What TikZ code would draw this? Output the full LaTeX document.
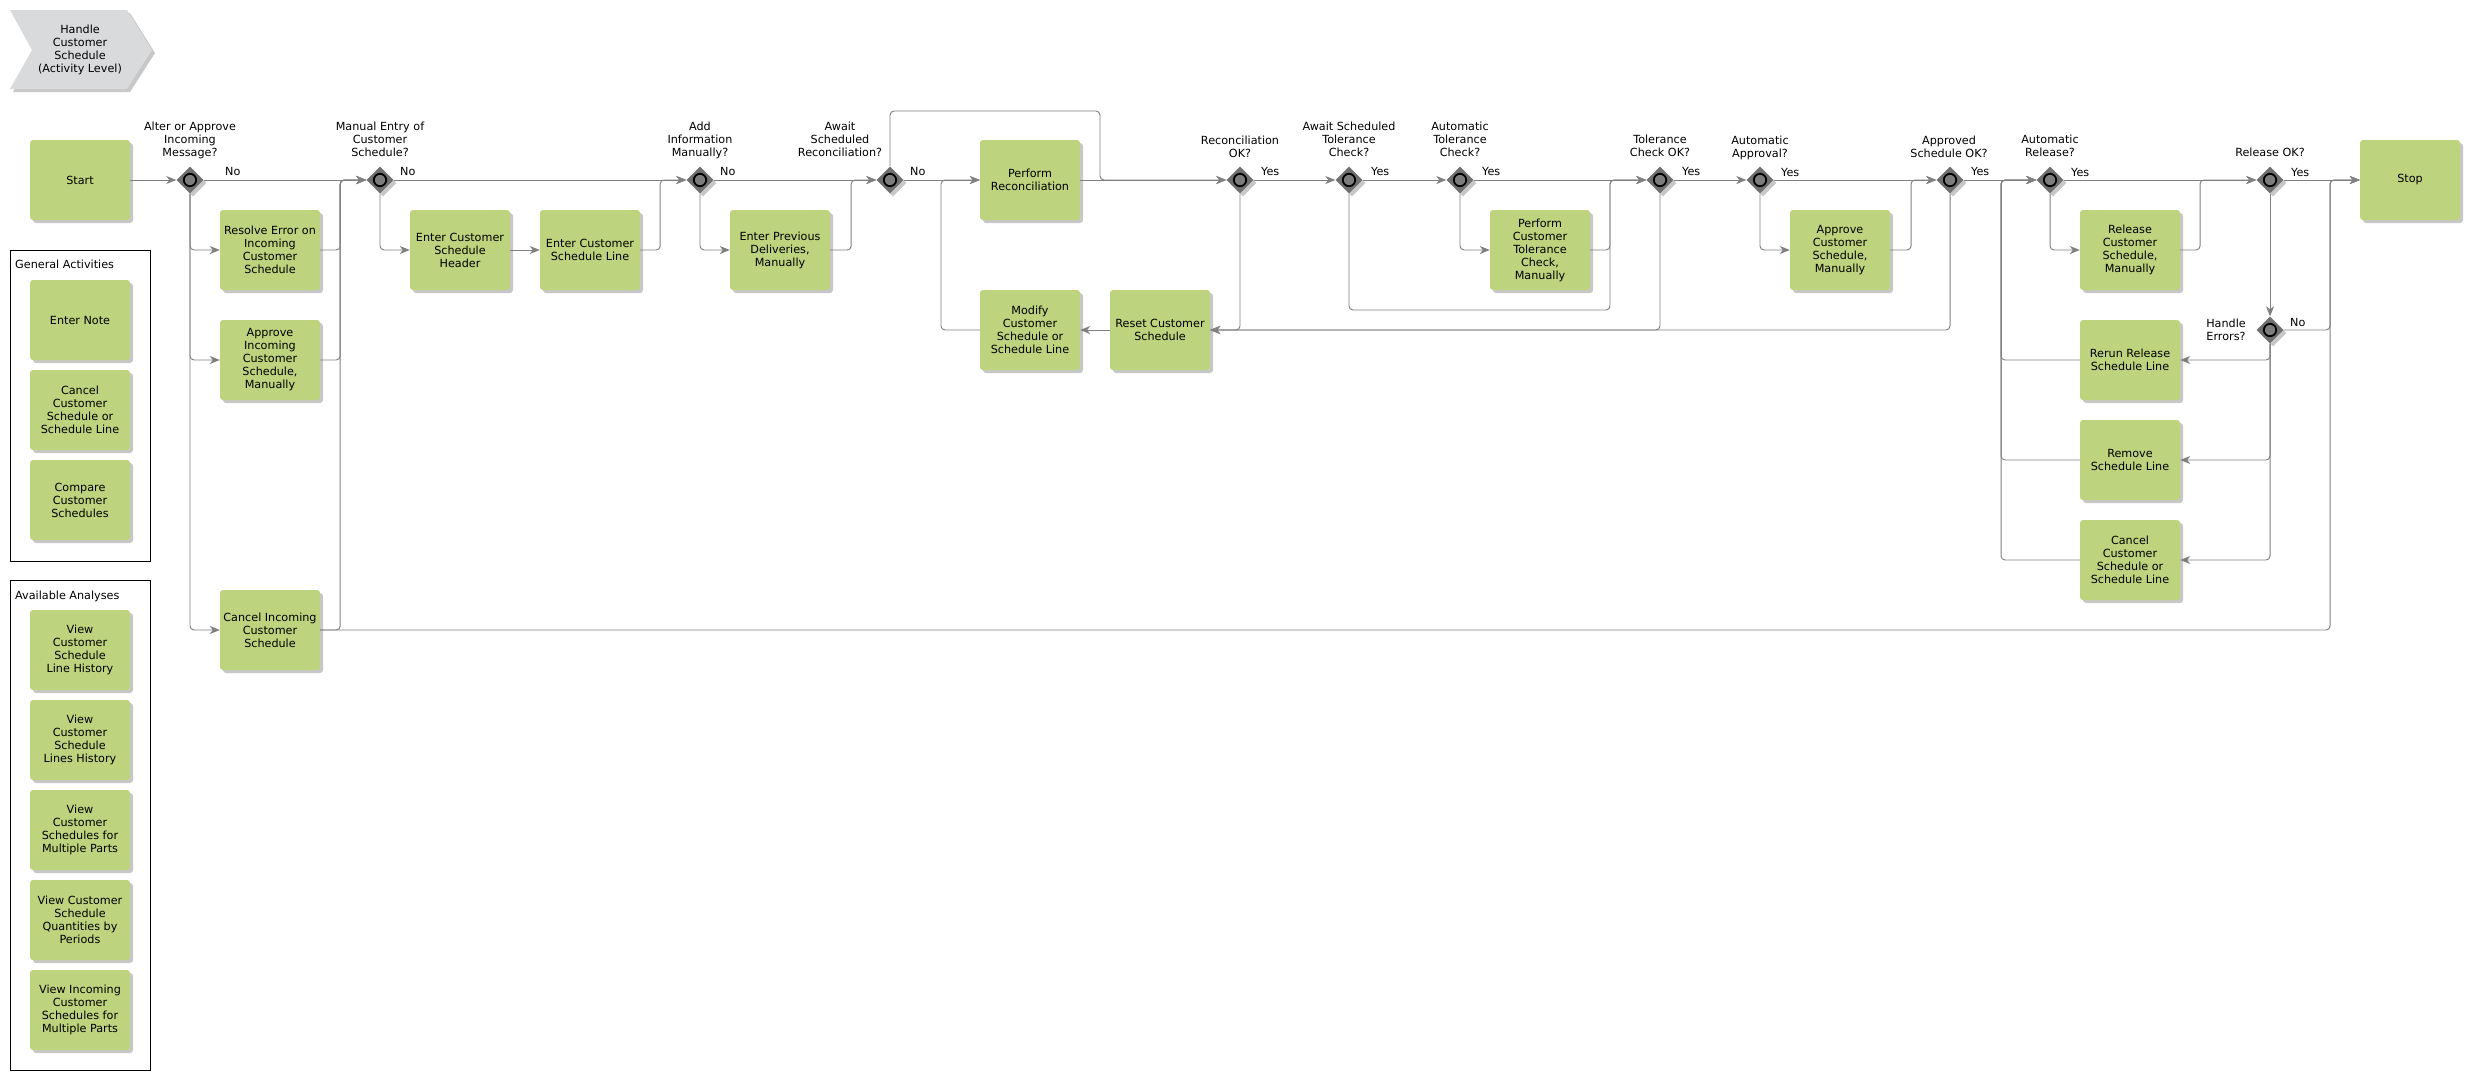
\documentclass[tikz,border=0pt]{standalone}
\usepackage{fontspec}
\setmainfont{DejaVu Sans}
\usetikzlibrary{shapes.geometric,shadows,arrows.meta}
\definecolor{boxgreen}{RGB}{189,211,125}
\definecolor{gwgray}{RGB}{112,112,112}
\definecolor{gwcirc}{RGB}{125,125,125}
\definecolor{linegray}{RGB}{128,128,128}
\definecolor{chevgray}{RGB}{217,218,220}
\tikzset{
  txt/.style={font=\fontsize{11.2}{13}\selectfont, inner sep=0pt, align=center},
  shad/.style={drop shadow={shadow xshift=3pt, shadow yshift=-3pt, fill=black, opacity=0.22}},
  box/.style={txt, fill=boxgreen, rounded corners=3pt, minimum width=100pt, minimum height=80pt, shad},
  gw/.style={diamond, aspect=1, minimum width=27pt, minimum height=27pt, inner sep=0pt, fill=gwgray, shad,
    path picture={\draw[line width=1.8pt, fill=gwcirc] (path picture bounding box.center) circle (6.2pt);}},
  flow/.style={draw=linegray, line width=0.95pt, rounded corners=4pt, -{Stealth[length=10pt,width=8pt,inset=3pt]}},
  plain/.style={draw=linegray, line width=0.95pt, rounded corners=4pt},
  qlbl/.style={txt, anchor=south, text depth=0pt},
  ans/.style={txt, anchor=base west},
  grp/.style={draw=black, line width=0.9pt}
}
\begin{document}
\begin{tikzpicture}[x=1pt,y=-1pt]
\useasboundingbox (0,0) rectangle (2470,1080);
\fill[white] (0,0) rectangle (2470,1080);

% header chevron
\path[fill=chevgray, shad] (10,10) -- (127,10) -- (152,50) -- (127,89) -- (10,89) -- (32,50) -- cycle;
\node[txt] (hdr) at (80,50) {Handle\\Customer\\Schedule\\(Activity Level)};

% group frames
\draw[grp] (10,250) rectangle (150,561);
\node[txt, anchor=west] (gentitle) at (15,264) {General Activities};
\draw[grp] (10,580) rectangle (150,1070);
\node[txt, anchor=west] (avtitle) at (15,596) {Available Analyses};

% general / analyses boxes
\node[box] (enternote) at (80,320) {Enter Note};
\node[box] (gcancel) at (80,410) {Cancel\\Customer\\Schedule or\\Schedule Line};
\node[box] (compare) at (80,500) {Compare\\Customer\\Schedules};
\node[box] (v1) at (80,650) {View\\Customer\\Schedule\\Line History};
\node[box] (v2) at (80,740) {View\\Customer\\Schedule\\Lines History};
\node[box] (v3) at (80,830) {View\\Customer\\Schedules for\\Multiple Parts};
\node[box] (v4) at (80,920) {View Customer\\Schedule\\Quantities by\\Periods};
\node[box] (v5) at (80,1010) {View Incoming\\Customer\\Schedules for\\Multiple Parts};

% process boxes
\node[box] (start) at (80,180) {Start};
\node[box] (resolve) at (270,250) {Resolve Error on\\Incoming\\Customer\\Schedule};
\node[box] (approvein) at (270,360) {Approve\\Incoming\\Customer\\Schedule,\\Manually};
\node[box] (cancelin) at (270,630) {Cancel Incoming\\Customer\\Schedule};
\node[box] (ecsh) at (460,250) {Enter Customer\\Schedule\\Header};
\node[box] (ecsl) at (590,250) {Enter Customer\\Schedule Line};
\node[box] (epd) at (780,250) {Enter Previous\\Deliveries,\\Manually};
\node[box] (perfrec) at (1030,180) {Perform\\Reconciliation};
\node[box] (modify) at (1030,330) {Modify\\Customer\\Schedule or\\Schedule Line};
\node[box] (reset) at (1160,330) {Reset Customer\\Schedule};
\node[box] (pctc) at (1540,250) {Perform\\Customer\\Tolerance\\Check,\\Manually};
\node[box] (acsm) at (1840,250) {Approve\\Customer\\Schedule,\\Manually};
\node[box] (rcsm) at (2130,250) {Release\\Customer\\Schedule,\\Manually};
\node[box] (stop) at (2410,180) {Stop};
\node[box] (rerun) at (2130,360) {Rerun Release\\Schedule Line};
\node[box] (remove) at (2130,460) {Remove\\Schedule Line};
\node[box] (cancelcs) at (2130,560) {Cancel\\Customer\\Schedule or\\Schedule Line};

% gateways
\node[gw] (g1) at (190,180) {};
\node[gw] (g2) at (380,180) {};
\node[gw] (g3) at (700,180) {};
\node[gw] (g4) at (890,180) {};
\node[gw] (g5) at (1240,180) {};
\node[gw] (g6) at (1349,180) {};
\node[gw] (g7) at (1460,180) {};
\node[gw] (g8) at (1660,180) {};
\node[gw] (g9) at (1760,180) {};
\node[gw] (g10) at (1950,180) {};
\node[gw] (g11) at (2050,180) {};
\node[gw] (g12) at (2270,180) {};
\node[gw] (g13) at (2270,330) {};

% gateway questions
\node[qlbl] (q1) at (190,157) {Alter or Approve\\Incoming\\Message?};
\node[qlbl] (q2) at (380,157) {Manual Entry of\\Customer\\Schedule?};
\node[qlbl] (q3) at (700,157) {Add\\Information\\Manually?};
\node[qlbl] (q4) at (840,157) {Await\\Scheduled\\Reconciliation?};
\node[qlbl] (q5) at (1240,158) {Reconciliation\\OK?};
\node[qlbl] (q6) at (1349,157) {Await Scheduled\\Tolerance\\Check?};
\node[qlbl] (q7) at (1460,157) {Automatic\\Tolerance\\Check?};
\node[qlbl] (q8) at (1660,157) {Tolerance\\Check OK?};
\node[qlbl] (q9) at (1760,158) {Automatic\\Approval?};
\node[qlbl] (q10) at (1949,158) {Approved\\Schedule OK?};
\node[qlbl] (q11) at (2050,157) {Automatic\\Release?};
\node[qlbl] (q12) at (2270,157) {Release OK?};
\node[qlbl] (q13) at (2226,341) {Handle\\Errors?};

% answers
\node[ans] (a1) at (225,175) {No};
\node[ans] (a2) at (400,175) {No};
\node[ans] (a3) at (720,175) {No};
\node[ans] (a4) at (910,175) {No};
\node[ans] (a5) at (1261,175) {Yes};
\node[ans] (a6) at (1371,175) {Yes};
\node[ans] (a7) at (1482,175) {Yes};
\node[ans] (a8) at (1682,175) {Yes};
\node[ans] (a9) at (1781,176) {Yes};
\node[ans] (a10) at (1971,175) {Yes};
\node[ans] (a11) at (2071,176) {Yes};
\node[ans] (a12) at (2291,176) {Yes};
\node[ans] (a13) at (2290,326) {No};

% connectors
\draw[flow] (start.east) -- (g1.west);
\draw[flow] (g1.east) -- (g2.west);
\draw[flow] (g1.south) |- (resolve.west);
\draw[flow] (g1.south) |- (approvein.west);
\draw[flow] (g1.south) |- (cancelin.west);
\draw[flow] (resolve.east) -- ++(20,0) |- (g2.west);
\draw[flow] (approvein.east) -- ++(20,0) |- (g2.west);
\draw[flow] (cancelin.east) -- ++(20,0) |- (g2.west);
\draw[flow] (cancelin.east) -| (2330,180) -- (stop.west);

\draw[flow] (g2.east) -- (g3.west);
\draw[flow] (g2.south) |- (ecsh.west);
\draw[flow] (ecsh.east) -- (ecsl.west);
\draw[flow] (ecsl.east) -- ++(20,0) |- (g3.west);

\draw[flow] (g3.east) -- (g4.west);
\draw[flow] (g3.south) |- (epd.west);
\draw[flow] (epd.east) -- ++(21,0) |- (g4.west);

\draw[flow] (g4.east) -- (perfrec.west);
\draw[flow] (g4.north) |- (1100,111) -- (1100,180) -- (g5.west);
\draw[flow] (perfrec.east) -- (g5.west);
\draw[flow] (modify.west) -- (941,330) |- (perfrec.west);
\draw[flow] (reset.west) -- (modify.east);

\draw[flow] (g5.south) |- (reset.east);
\draw[flow] (g5.east) -- (g6.west);
\draw[flow] (g6.east) -- (g7.west);
\draw[flow] (g6.south) |- (1610,310) |- (g8.west);
\draw[flow] (g7.east) -- (g8.west);
\draw[flow] (g7.south) |- (pctc.west);
\draw[flow] (pctc.east) -- (1610,250) |- (g8.west);

\draw[flow] (g8.south) |- (reset.east);
\draw[flow] (g8.east) -- (g9.west);
\draw[flow] (g9.south) |- (acsm.west);
\draw[flow] (g9.east) -- (g10.west);
\draw[flow] (acsm.east) -- (1911,250) |- (g10.west);

\draw[flow] (g10.south) |- (reset.east);
\draw[flow] (g10.east) -- (g11.west);
\draw[flow] (g11.south) |- (rcsm.west);
\draw[flow] (g11.east) -- (g12.west);
\draw[flow] (rcsm.east) -- (2200,250) |- (g12.west);

\draw[flow] (g12.east) -- (stop.west);
\draw[flow] (g12.south) -- (g13.north);
\draw[flow] (g13.east) -- (2330,330) |- (stop.west);
\draw[flow] (g13.south) |- (rerun.east);
\draw[flow] (g13.south) |- (remove.east);
\draw[flow] (g13.south) |- (cancelcs.east);
\draw[flow] (rerun.west) -- (2001,360) |- (g11.west);
\draw[flow] (remove.west) -- (2001,460) |- (g11.west);
\draw[flow] (cancelcs.west) -- (2001,560) |- (g11.west);
\end{tikzpicture}
\end{document}
